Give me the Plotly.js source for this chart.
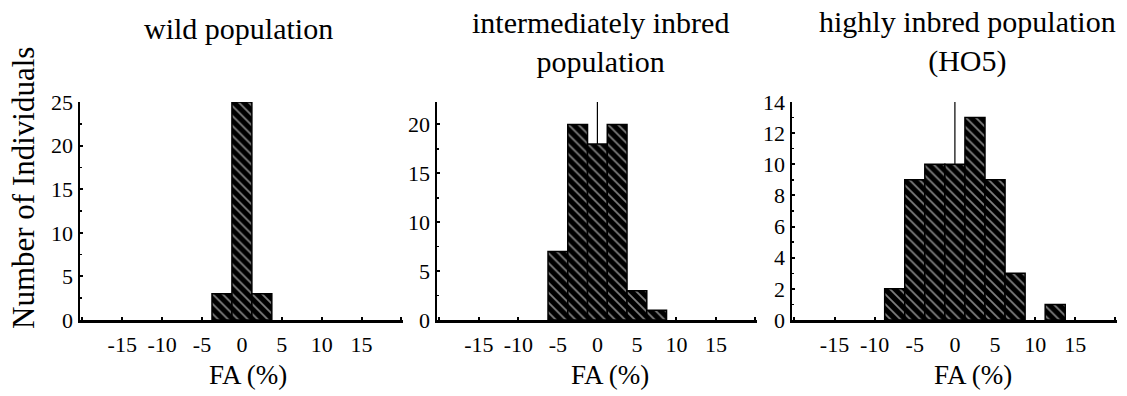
<!DOCTYPE html>
<html>
<head>
<meta charset="utf-8">
<script src="https://cdn.plot.ly/plotly-3.0.1.min.js"></script>
<style>html,body{margin:0;padding:0;background:#fff;}#chart{width:1127px;height:396px;}</style>
</head>
<body>
<div id="chart"></div>
<script>
// Data (FA % bin centres and counts)
const wildFA = [-2.5, 0, 2.5];
const wildCount = [3, 25, 3];
const interFA = [-5, -2.5, 0, 2.5, 5, 7.5];
const interCount = [7, 20, 18, 20, 3, 1];
const highFA = [-7.5, -5, -2.5, 0, 2.5, 5, 7.5, 12.5];
const highCount = [2, 9, 10, 10, 13, 9, 3, 1];
const panelTitles = ["wild population", "intermediately inbred<br>population", "highly inbred population<br>(HO5)"];
const xTickVals = [-20, -15, -10, -5, 0, 5, 10, 15, 20];
const xTickText = ["", "-15", "-10", "-5", "0", "5", "10", "15", ""];
const yTicks1 = [0, 5, 10, 15, 20, 25];
const yTicks2 = [0, 5, 10, 15, 20];
const yTicks3 = [0, 2, 4, 6, 8, 10, 12, 14];
const binWidth = 2.5;

const W = 1127;
const FONT = "'Liberation Serif', 'Times New Roman', serif";

function barTrace(x, y, xa, ya) {
  return {
    type: "bar", x: x, y: y, xaxis: xa, yaxis: ya,
    width: x.map(() => binWidth),
    marker: {
      color: "black",
      line: {color: "black", width: 1.5},
      pattern: {shape: "\\", fgcolor: "white", bgcolor: "black", size: 7, solidity: 0.25, fillmode: "overlay"}
    },
    hoverinfo: "x+y", showlegend: false
  };
}

const data = [
  barTrace(wildFA, wildCount, "x", "y"),
  barTrace(interFA, interCount, "x2", "y2"),
  barTrace(highFA, highCount, "x3", "y3")
];

function xAxis(domain, anchor) {
  return {
    domain: domain, anchor: anchor, range: [-20.3, 20.2],
    tickvals: xTickVals, ticktext: xTickText,
    ticks: "inside", ticklen: 3, tickwidth: 2, tickcolor: "black",
    showline: true, linecolor: "black", linewidth: 2.5,
    showgrid: false, zeroline: false, fixedrange: true,
    ticklabelstandoff: 3,
    tickfont: {family: FONT, size: 22, color: "black"}
  };
}
function yAxis(range, ticks, minorD, anchor) {
  return {
    domain: [0, 1], anchor: anchor, range: range,
    tickvals: ticks,
    ticks: "inside", ticklen: 3, tickwidth: 2, tickcolor: "black",
    minor: {dtick: minorD, ticks: "inside", ticklen: 2, tickwidth: 1.5, tickcolor: "black"},
    showline: true, linecolor: "black", linewidth: 2.5,
    showgrid: false, zeroline: false, fixedrange: true,
    ticklabelstandoff: 0,
    tickfont: {family: FONT, size: 22, color: "black"}
  };
}

function ann(text, xpx, ypx, size, angle) {
  return {
    text: text, xref: "paper", yref: "paper",
    x: xpx / W, y: (320 - ypx) / 218,
    xanchor: "center", yanchor: "middle",
    showarrow: false, textangle: angle || 0,
    font: {size: size, family: FONT, color: "black"}
  };
}

const layout = {
  width: 1127, height: 396,
  margin: {l: 0, r: 0, t: 102, b: 76, pad: 0},
  paper_bgcolor: "white", plot_bgcolor: "white",
  bargap: 0,
  font: {family: FONT, color: "black"},
  xaxis: xAxis([80 / W, 403 / W], "y"),
  yaxis: yAxis([0, 25], yTicks1, 2.5, "x"),
  xaxis2: xAxis([437 / W, 757 / W], "y2"),
  yaxis2: yAxis([0, 22.3], yTicks2, 2.5, "x2"),
  xaxis3: xAxis([792 / W, 1117 / W], "y3"),
  yaxis3: yAxis([0, 14], yTicks3, 1, "x3"),
  shapes: [
    {type: "line", xref: "x2", yref: "y2", x0: 0, x1: 0, y0: 0, y1: 22.3, line: {color: "black", width: 1.2}, layer: "below"},
    {type: "line", xref: "x3", yref: "y3", x0: 0, x1: 0, y0: 0, y1: 14, line: {color: "black", width: 1.2}, layer: "below"}
  ],
  annotations: [
    ann(panelTitles[0], 238, 29, 30),
    ann(panelTitles[1], 600, 42, 30),
    ann(panelTitles[2], 967, 41, 30),
    ann("Number of Individuals", 23, 188, 31, -90),
    ann("FA (%)", 248, 375, 27),
    ann("FA (%)", 610, 375, 27),
    ann("FA (%)", 973, 375, 27)
  ]
};

Plotly.newPlot("chart", data, layout, {displayModeBar: false, staticPlot: true});
</script>
</body>
</html>
